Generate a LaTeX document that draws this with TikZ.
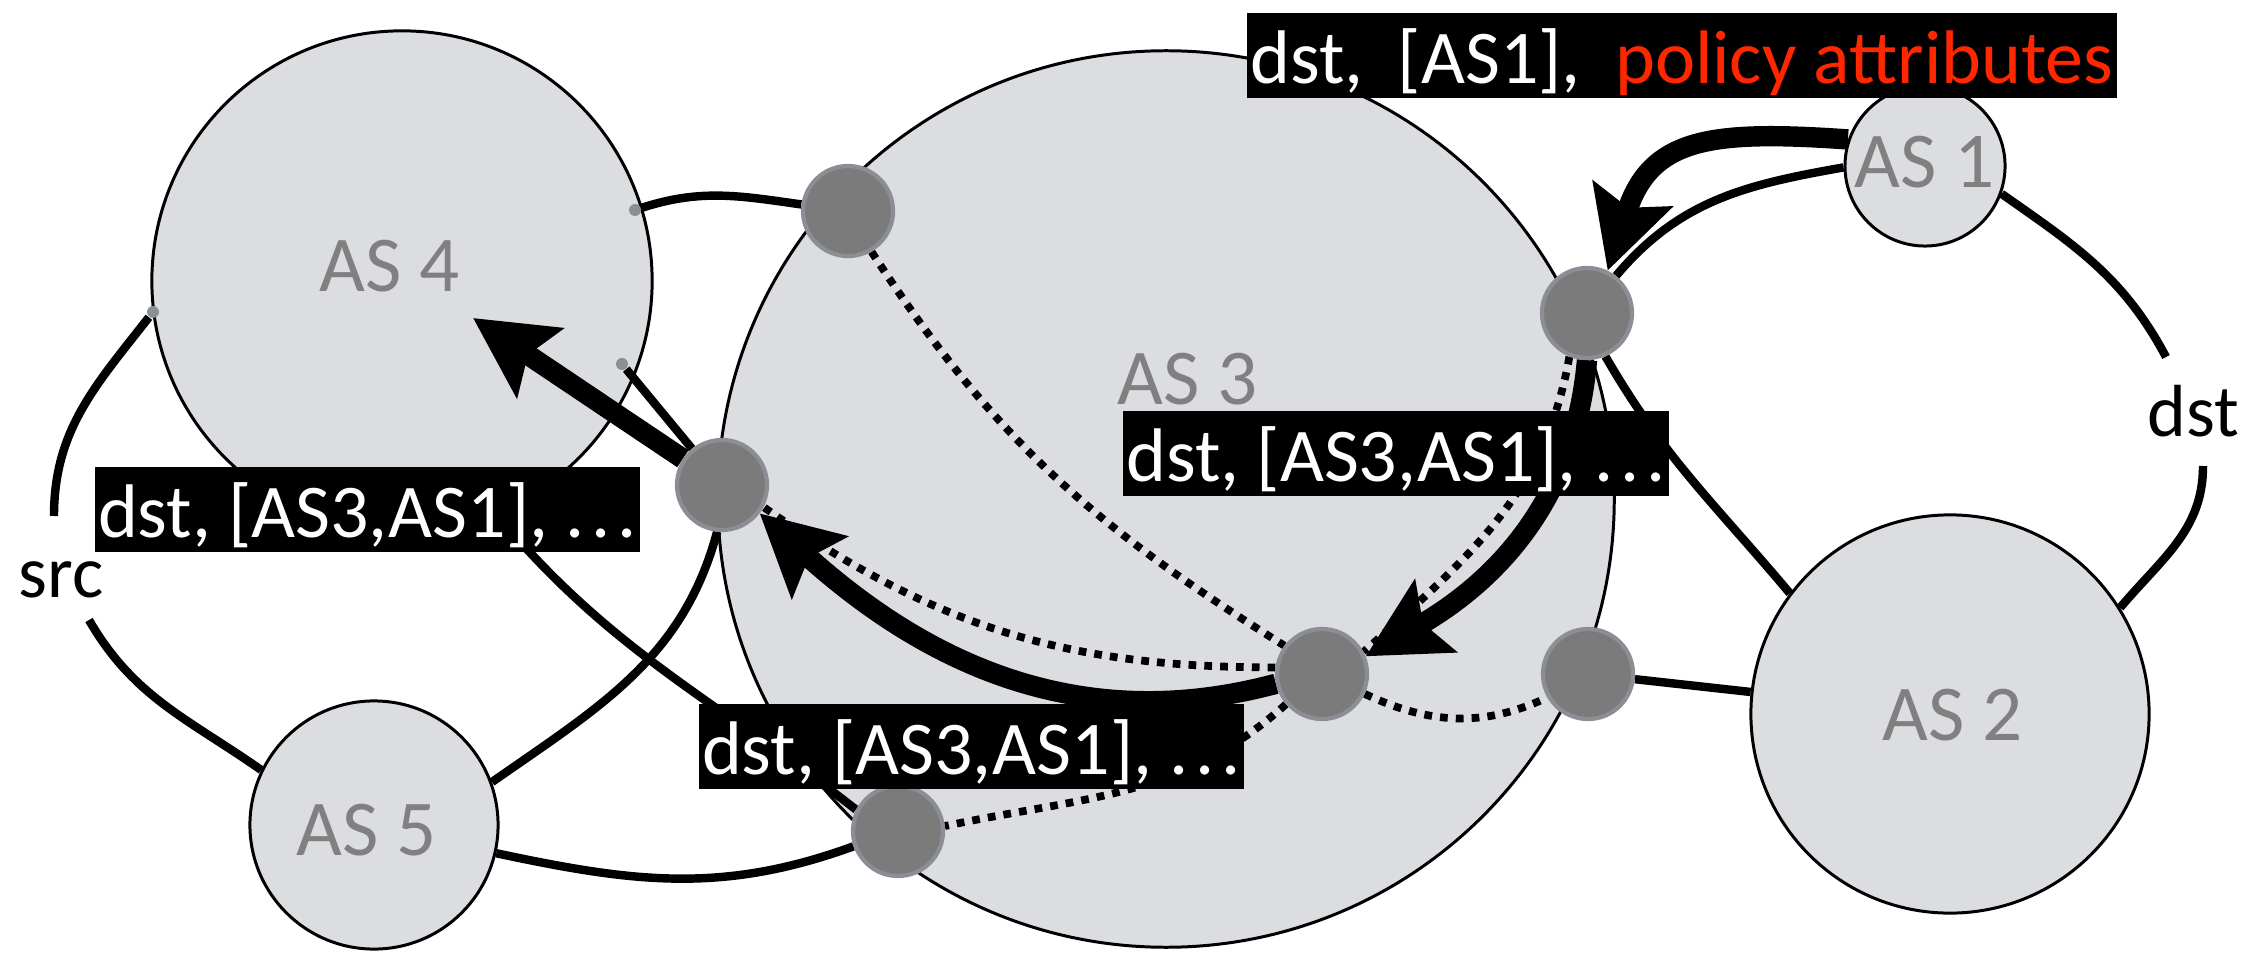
\documentclass[tikz,border=0pt]{standalone}
\usepackage{fontspec}
\setmainfont{Carlito}
\usetikzlibrary{arrows.meta}
\definecolor{asfill}{RGB}{220,221,224}
\definecolor{asgray}{RGB}{128,128,128}
\definecolor{rtfill}{RGB}{123,123,123}
\definecolor{rtedge}{RGB}{139,143,149}
\definecolor{policyred}{RGB}{255,38,0}
\pgfdeclarelayer{shapes}
\pgfdeclarelayer{links}
\pgfsetlayers{shapes,links,main}
\newcommand{\spdots}{.\kern2pt.\kern2pt.}
\begin{document}
\begin{tikzpicture}[x=0.01cm,y=-0.01cm,
  asnode/.style={circle, draw=black, line width=0.85pt, fill=asfill, inner sep=0pt},
  astext/.style={text=asgray, font=\fontsize{22.5}{22.5}\selectfont, inner sep=0pt},
  router/.style={circle, draw=rtedge, line width=1.2pt, fill=rtfill, inner sep=0pt, minimum size=0.9cm},
  enddot/.style={circle, fill=rtedge, inner sep=0pt, minimum size=0.12cm},
  link/.style={line width=2.4pt},
  ibgp/.style={line width=2.2pt, dash pattern=on 2.2pt off 2.3pt},
  adv/.style={line width=5.8pt, -{Stealth[length=0.8cm,width=0.82cm,inset=0.14cm]}},
  ann/.style={fill=black, text=white, font=\fontsize{21.6}{22}\selectfont,
    inner xsep=1pt, inner ysep=0pt, text height=0.705cm, text depth=0.145cm},
  plain/.style={font=\fontsize{21}{21}\selectfont, inner sep=0pt}
]
\useasboundingbox (0,0) rectangle (2264,958);

% autonomous systems
\begin{pgfonlayer}{shapes}
  \node[asnode, minimum size=5cm]    (as4) at (402,281) {};
  \node[asnode, minimum size=8.96cm] (as3) at (1166,499) {};
  \node[asnode, minimum size=1.6cm]  (as1) at (1925,166) {};
  \node[asnode, minimum size=3.98cm] (as2) at (1950,714) {};
  \node[asnode, minimum size=2.48cm] (as5) at (374,825) {};
  \node[astext] (as4t) at (390,266) {AS 4};
  \node[astext] (as3t) at (1188,379) {AS 3};
  \node[astext] (as1t) at (1925,162) {AS 1};
  \node[astext] (as2t) at (1953,715) {AS 2};
  \node[astext] (as5t) at (367,830) {AS 5};
\end{pgfonlayer}

% border routers
\node[router] (r1) at (848,211) {};
\node[router] (r2) at (722,485) {};
\node[router] (r3) at (1587,313) {};
\node[router] (r4) at (1322,674) {};
\node[router] (r5) at (1588,674) {};
\node[router] (r6) at (898,831) {};

% link end markers on AS 4
\node[enddot] (d1) at (635,210) {};
\node[enddot] (d2) at (153,312) {};
\node[enddot] (d3) at (622,364) {};

\coordinate (srcA) at (54,516);
\coordinate (srcB) at (89,620);
\coordinate (dstA) at (2166,357);
\coordinate (dstB) at (2203,466);
\coordinate (as4tip) at (473,318);

\begin{pgfonlayer}{links}
  % inter-AS links
  \draw[link] (d1) to[out=18, in=172] (r1);
  \draw[link] (d2) to[out=232, in=90] (srcA);
  \draw[link] (srcB) to[out=-60, in=145] (as5.154);
  \draw[link] (d3) -- (r2);
  \draw[link] (r2.-96) to[out=-105, in=35] (as5.20);
  \draw[link] (as4.-68) to[out=-50, in=142] (r6.153);
  \draw[link] (as5.-13) to[out=-12, in=-160] (r6.-161);
  \draw[link] (as1.-20) to[out=-35, in=118] (dstA);
  \draw[link] (dstB) to[out=-90, in=50] (as2.32);
  \draw[link] (r3.-67) to[out=-60, in=130] (as2.143);
  \draw[link] (r5) -- (as2);
  \draw[link] (as1.181) to[out=190, in=50] (r3.52);
  % iBGP sessions inside AS 3
  \draw[ibgp] (r1.-60) to[out=-57, in=148] (r4.143);
  \draw[ibgp] (r3.-112) to[out=-100, in=42] (r4.28);
  \draw[ibgp] (r4.172) to[out=180, in=-35] (r2.-28);
  \draw[ibgp] (r4.-25) to[out=-25, in=-155] (r5.-150);
  \draw[ibgp] (r4.220) to[out=222, in=12] (r6.6);
  % route advertisements
  \draw[adv] (as1.161) to[out=176, in=72, looseness=1.3] (r3.64);
  \draw[adv] (r3.-90) to[out=-95, in=30] (r4.22);
  \draw[adv] (r4.192) to[out=195, in=-42] (r2.-37);
  \draw[adv] (r2) -- (as4tip);
\end{pgfonlayer}

% route announcements
\node[ann, minimum width=8.56cm] (lab0) at (1682,55.5)
  {dst,\ \ [AS1],\ \ \textcolor{policyred}{policy attributes}};
\node[ann, minimum width=5.42cm] (lab2) at (1396,453.5) {dst, [AS3,AS1], \spdots};
\node[ann, minimum width=5.43cm] (lab1) at (367.5,509.5) {dst, [AS3,AS1], \spdots};
\node[ann, minimum width=5.43cm] (lab3) at (971.5,746.5) {dst, [AS3,AS1], \spdots};

\node[plain] (srct) at (61,580) {src};
\node[plain] (dstt) at (2193,411) {dst};
\end{tikzpicture}
\end{document}
